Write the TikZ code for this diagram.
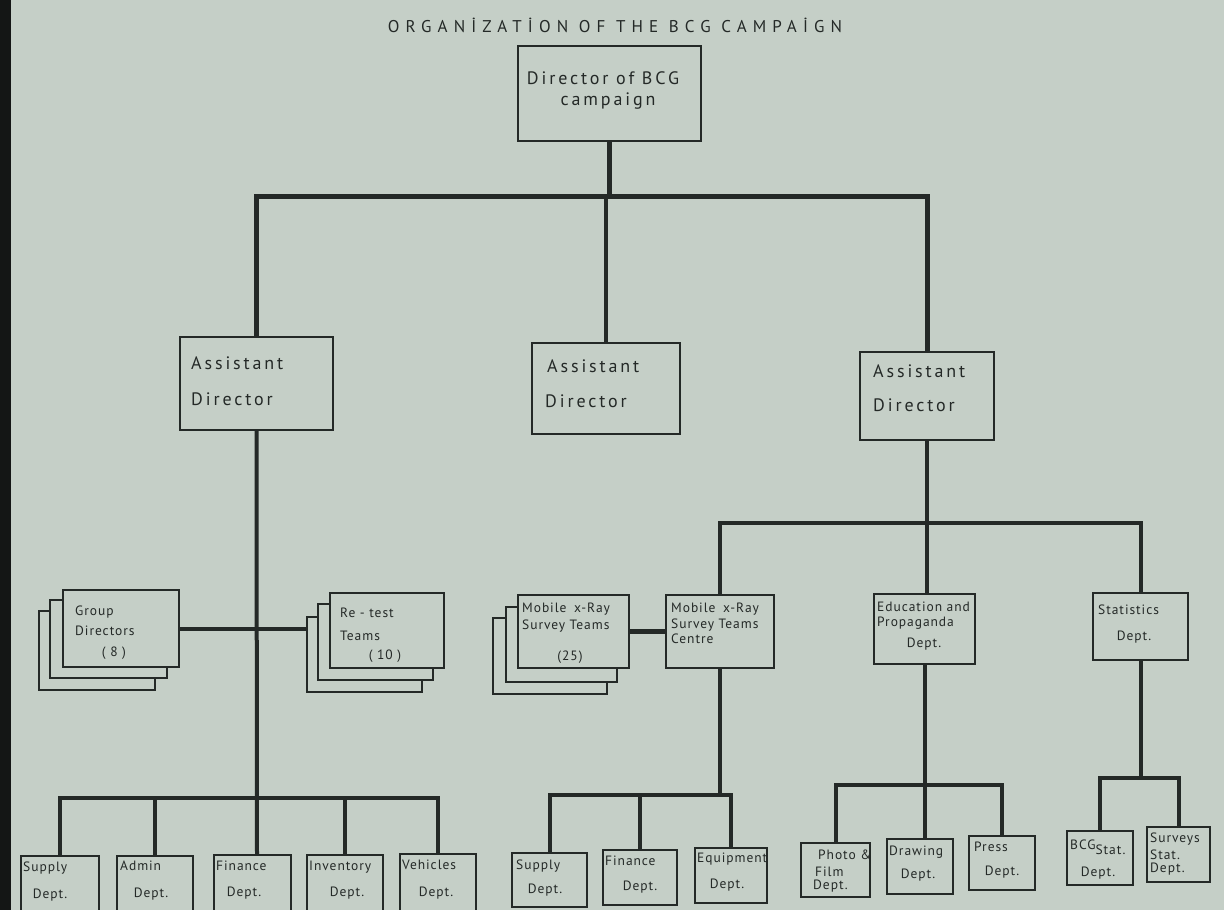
\documentclass[tikz,border=0pt]{standalone}
\usepackage{fontspec}
\setmainfont{PT Sans}
\newfontfamily\bcgT[LetterSpace=36]{PT Sans}
\newfontfamily\bcgA[LetterSpace=16]{PT Sans}
\newfontfamily\bcgB[LetterSpace=7]{PT Sans}
\definecolor{ink}{HTML}{242927}
\definecolor{paper}{HTML}{C5CFC7}
\definecolor{edge}{HTML}{141615}
\pgfdeclarelayer{paperl}
\pgfdeclarelayer{lines}
\pgfsetlayers{paperl,lines,main}
\newcommand{\bigtxt}{\bcgA\fontsize{18}{21}\selectfont}
\newcommand{\smtxt}{\bcgB\fontsize{13.5}{16}\selectfont}
\newcommand{\obox}[5]{\node[box, minimum width={(#4)-(#2)}, minimum height={(#5)-(#3)}] (#1) at ({((#2)+(#4))/2},{((#3)+(#5))/2}) {};}
\tikzset{
  box/.style={draw=ink, line width=2.6pt, fill=paper, inner sep=0pt},
  conn/.style={draw=ink, line width=4pt, line cap=rect, line join=miter},
  topbus/.style={conn, line width=5pt},
  bigt/.style={font=\bigtxt, text=ink, inner sep=0pt},
  smt/.style={font=\smtxt, text=ink, inner sep=0pt},
  titlet/.style={font=\bcgT\fontsize{17}{20}\selectfont, text=ink, inner sep=0pt},
}
\begin{document}
\begin{tikzpicture}[x=1pt,y=-1pt]
\useasboundingbox (0,0) rectangle (1224,910);
\begin{pgfonlayer}{paperl}
  \fill[paper] (0,0) rectangle (1224,910);
  \fill[edge] (0,0) rectangle (11,910);
\end{pgfonlayer}

% title
\node[titlet] (title) at (615,25) {ORGANİZATİON OF THE BCG CAMPAİGN};

% top level
\obox{dir}{518}{46}{701}{141}
\node[bigt] (dir1) at (603,78) {Director of BCG};
\node[bigt] (dir2) at (608,101) {campaign};

% assistant directors
\obox{a1}{180}{337}{333}{430}
\node[bigt, anchor=mid west] (a1t1) at (191,367) {Assistant};
\node[bigt, anchor=mid west] (a1t2) at (191,403) {Director};
\obox{a2}{532}{343}{680}{434}
\node[bigt, anchor=mid west] (a2t1) at (547,370) {Assistant};
\node[bigt, anchor=mid west] (a2t2) at (545,405) {Director};
\obox{a3}{860}{352}{994}{440}
\node[bigt, anchor=mid west] (a3t1) at (873,375) {Assistant};
\node[bigt, anchor=mid west] (a3t2) at (873,409) {Director};

% stacked boxes: group directors
\obox{gd3}{39}{611}{155}{690}
\obox{gd2}{50}{600}{167}{678}
\obox{gd1}{63}{590}{179}{667}
\node[smt, anchor=mid west] (gdt1) at (75,613) {Group};
\node[smt, anchor=mid west] (gdt2) at (75,633) {Directors};
\node[smt] (gdt3) at (114,653) {( 8 )};

% stacked boxes: re-test teams
\obox{rt3}{307}{617}{422}{692}
\obox{rt2}{318}{604}{433}{680}
\obox{rt1}{330}{593}{444}{668}
\node[smt, anchor=mid west] (rtt1) at (340,615) {Re - test};
\node[smt, anchor=mid west] (rtt2) at (340,638) {Teams};
\node[smt] (rtt3) at (385,656) {( 10 )};

% stacked boxes: mobile x-ray survey teams
\obox{mt3}{493}{618}{607}{694}
\obox{mt2}{506}{607}{617}{682}
\obox{mt1}{518}{595}{629}{668}
\node[smt, anchor=mid west] (mtt1) at (522,610) {Mobile\hspace{3pt} x-Ray};
\node[smt, anchor=mid west] (mtt2) at (522,627) {Survey Teams};
\node[smt] (mtt3) at (570,657) {(25)};

% centre, education, statistics
\obox{mc}{666}{595}{774}{668}
\node[smt, anchor=mid west] (mct1) at (671,610) {Mobile\hspace{3pt} x-Ray};
\node[smt, anchor=mid west] (mct2) at (671,626) {Survey Teams};
\node[smt, anchor=mid west] (mct3) at (671,641) {Centre};
\obox{ed}{874}{594}{975}{664}
\node[smt, anchor=mid west] (edt1) at (877,609) {Education and};
\node[smt, anchor=mid west] (edt2) at (877,624) {Propaganda};
\node[smt] (edt3) at (924,644) {Dept.};
\obox{st}{1093}{593}{1188}{660}
\node[smt, anchor=mid west] (stt1) at (1098,612) {Statistics};
\node[smt] (stt2) at (1134,637) {Dept.};

% bottom left departments
\obox{bs1}{21}{856}{99}{925}
\node[smt, anchor=mid west] (bs1a) at (23,869) {Supply};
\node[smt] (bs1b) at (50,895) {Dept.};
\obox{bs2}{117}{856}{193}{925}
\node[smt, anchor=mid west] (bs2a) at (120,868) {Admin};
\node[smt] (bs2b) at (151,894) {Dept.};
\obox{bs3}{214}{855}{291}{925}
\node[smt, anchor=mid west] (bs3a) at (216,868) {Finance};
\node[smt] (bs3b) at (244,893) {Dept.};
\obox{bs4}{307}{855}{383}{925}
\node[smt, anchor=mid west] (bs4a) at (309,868) {Inventory};
\node[smt] (bs4b) at (347,893) {Dept.};
\obox{bs5}{400}{854}{476}{925}
\node[smt, anchor=mid west] (bs5a) at (402,867) {Vehicles};
\node[smt] (bs5b) at (436,893) {Dept.};

% bottom middle departments
\obox{ms1}{512}{853}{587}{907}
\node[smt, anchor=mid west] (ms1a) at (516,867) {Supply};
\node[smt] (ms1b) at (545,890) {Dept.};
\obox{ms2}{603}{850}{677}{905}
\node[smt, anchor=mid west] (ms2a) at (605,863) {Finance};
\node[smt] (ms2b) at (640,887) {Dept.};
\obox{ms3}{695}{848}{767}{903}
\node[smt, anchor=mid west] (ms3a) at (697,860) {Equipment};
\node[smt] (ms3b) at (727,885) {Dept.};

% bottom right: education departments
\obox{ep1}{801}{843}{870}{897}
\node[smt, anchor=mid west] (ep1a) at (818,857) {Photo \&};
\node[smt, anchor=mid west] (ep1b) at (815,874) {Film};
\node[smt, anchor=mid west] (ep1c) at (813,887) {Dept.};
\obox{ep2}{887}{839}{953}{894}
\node[smt, anchor=mid west] (ep2a) at (889,853) {Drawing};
\node[smt] (ep2b) at (918,875) {Dept.};
\obox{ep3}{969}{836}{1035}{890}
\node[smt, anchor=mid west] (ep3a) at (974,849) {Press};
\node[smt] (ep3b) at (1002,872) {Dept.};

% bottom right: statistics departments
\obox{ss1}{1067}{831}{1133}{885}
\node[smt, anchor=mid west] (ss1a) at (1070,847) {BCG\raisebox{-5pt}{Stat.}};
\node[smt] (ss1b) at (1098,873) {Dept.};
\obox{ss2}{1147}{827}{1210}{882}
\node[smt, anchor=mid west] (ss2a) at (1150,840) {Surveys};
\node[smt, anchor=mid west] (ss2b) at (1150,857) {Stat.};
\node[smt, anchor=mid west] (ss2c) at (1150,870) {Dept.};

% connectors
\coordinate (tb) at (609.5,196);
\coordinate (lb) at (257,798);
\coordinate (rb) at (927,523);
\coordinate (mb) at (720,795);
\coordinate (eb) at (924.5,785);
\coordinate (sb) at (1140.5,778);
\begin{pgfonlayer}{lines}
  \draw[topbus] (dir.south) -- (dir.south |- tb);
  \draw[topbus] (a1.north) |- (tb) -| (a3.north);
  \draw[conn] (a2.north) -- (a2.north |- tb);
  % left branch
  \draw[conn] (a1.south) -- (lb |- bs3.north);
  \draw[conn] (bs1.north) |- (lb) -| (bs5.north);
  \draw[conn] (bs2.north) -- (bs2.north |- lb);
  \draw[conn] (bs4.north) -- (bs4.north |- lb);
  \draw[conn] (gd1.east) -- (gd1.east -| rt3.west);
  % right branch
  \draw[conn] (a3.south) -- (a3.south |- ed.north);
  \draw[conn] (mc.north) |- (rb) -| (st.north);
  \draw[conn, line width=5pt] (mt1.east) -- (mt1.east -| mc.west);
  % centre departments
  \draw[conn] (mc.south) -- (mc.south |- mb);
  \draw[conn] (ms1.north) |- (mb) -| (ms3.north);
  \draw[conn] (ms2.north) -- (ms2.north |- mb);
  % education departments
  \draw[conn] (ed.south) -- (ed.south |- ep2.north);
  \draw[conn] (ep1.north) |- (eb) -| (ep3.north);
  % statistics departments
  \draw[conn] (st.south) -- (st.south |- sb);
  \draw[conn] (ss1.north) |- (sb) -| (ss2.north);
\end{pgfonlayer}
\end{tikzpicture}
\end{document}
